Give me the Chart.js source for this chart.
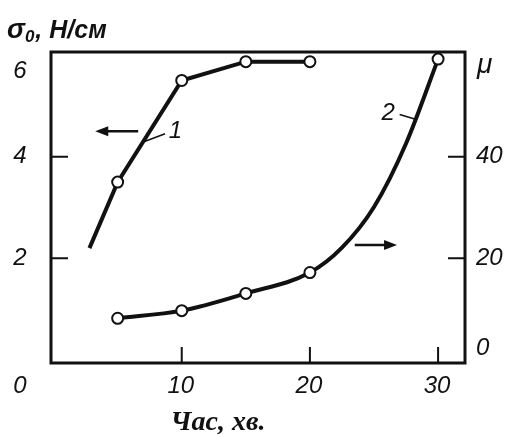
<!DOCTYPE html>
<html>
<head>
<meta charset="utf-8">
<script src="https://cdn.jsdelivr.net/npm/chart.js@4"></script>
<style>
  html, body { margin: 0; padding: 0; background: #fff; }
  #wrap { width: 511px; height: 437px; }
</style>
</head>
<body>
<div id="wrap"><canvas id="tensionChart"></canvas></div>
<script>
// крива 1: σ0 (Н/см), ліва вісь
const times1 = [2.8, 5, 10, 15, 20];
const sigma = [2.2, 3.5, 5.5, 5.87, 5.87];
// крива 2: μ, права вісь
const times2 = [5, 10, 15, 20, 22.5, 25, 27.5, 30];
const mu = [8.2, 9.7, 13.1, 17.2, 22.1, 30.1, 42.6, 59.2];
// моменти вимірювань (точки з кружечками)
const measured = [5, 10, 15, 20, 30];

const xTicks = [10, 20, 30];
const leftTicks = [2, 4, 6];
const rightTicks = [0, 20, 40];

const ink = '#111';
const numFont = 'italic 24px "Liberation Sans", sans-serif';

function markerRadius(c) {
    return measured.includes(c.raw.x) ? 5.5 : 0;
}

// рамка, засічки, підписи, стрілки
const decor = {
    id: 'decor',
    afterDraw(chart) {
        const ctx = chart.ctx;
        const a = chart.chartArea;
        const sx = chart.scales.x, sl = chart.scales.y, sr = chart.scales.y2;
        ctx.save();
        ctx.strokeStyle = ink;
        ctx.fillStyle = ink;

        ctx.lineWidth = 3;
        ctx.strokeRect(a.left, a.top, a.right - a.left, a.bottom - a.top);

        ctx.lineWidth = 2;
        ctx.beginPath();
        xTicks.forEach(v => {
            const px = sx.getPixelForValue(v);
            ctx.moveTo(px, a.bottom); ctx.lineTo(px, a.bottom - 16);
        });
        leftTicks.filter(v => v < 6).forEach(v => {
            const py = sl.getPixelForValue(v);
            ctx.moveTo(a.left, py); ctx.lineTo(a.left + 17, py);
        });
        rightTicks.filter(v => v > 0).forEach(v => {
            const py = sr.getPixelForValue(v);
            ctx.moveTo(a.right, py); ctx.lineTo(a.right - 17, py);
        });
        ctx.stroke();

        ctx.font = numFont;
        ctx.textBaseline = 'middle';
        ctx.textAlign = 'center';
        ctx.fillText('0', 20, a.bottom + 23);
        xTicks.forEach(v => ctx.fillText(String(v), sx.getPixelForValue(v) - 1, a.bottom + 23));
        leftTicks.forEach(v => {
            const py = Math.max(sl.getPixelForValue(v), a.top + 19);
            ctx.fillText(String(v), 20, py);
        });
        ctx.textAlign = 'left';
        rightTicks.forEach(v => {
            const py = Math.min(sr.getPixelForValue(v), a.bottom - 15);
            ctx.fillText(String(v), 476, py);
        });
        ctx.font = 'italic 28px "Liberation Sans", sans-serif';
        ctx.fillText('μ', 477, a.top + 13);

        // σ0, Н/см
        ctx.font = 'bold italic 27px "Liberation Sans", sans-serif';
        ctx.textBaseline = 'alphabetic';
        let tx = 7;
        ctx.fillText('σ', tx, 38);
        tx += ctx.measureText('σ').width;
        ctx.font = 'bold italic 17px "Liberation Sans", sans-serif';
        ctx.fillText('0', tx, 42);
        tx += ctx.measureText('0').width + 1;
        ctx.font = 'bold italic 25px "Liberation Sans", sans-serif';
        ctx.fillText(', Н/см', tx, 38);

        // Час, хв.
        ctx.font = 'bold italic 28px "Liberation Serif", serif';
        ctx.textAlign = 'center';
        ctx.textBaseline = 'middle';
        ctx.fillText('Час, хв.', 218, 423);

        // стрілки до осей
        function arrow(x0, y0, x1, y1) {
            const dir = Math.sign(x1 - x0);
            ctx.lineWidth = 2.5;
            ctx.beginPath();
            ctx.moveTo(x0, y0); ctx.lineTo(x1 - dir * 8, y1);
            ctx.stroke();
            ctx.beginPath();
            ctx.moveTo(x1, y1);
            ctx.lineTo(x1 - dir * 13, y1 - 5);
            ctx.lineTo(x1 - dir * 13, y1 + 5);
            ctx.closePath();
            ctx.fill();
        }
        arrow(sx.getPixelForValue(6.6), sl.getPixelForValue(4.5),
              sx.getPixelForValue(3.25), sl.getPixelForValue(4.5));
        arrow(sx.getPixelForValue(23.5), sr.getPixelForValue(22.6),
              sx.getPixelForValue(26.8), sr.getPixelForValue(22.6));

        // номери кривих з виносками
        ctx.lineWidth = 1.5;
        ctx.beginPath();
        ctx.moveTo(sx.getPixelForValue(7.1), sl.getPixelForValue(4.3));
        ctx.lineTo(sx.getPixelForValue(8.7), sl.getPixelForValue(4.45));
        ctx.moveTo(sx.getPixelForValue(27.0), sr.getPixelForValue(48.3));
        ctx.lineTo(sx.getPixelForValue(28.3), sr.getPixelForValue(47.3));
        ctx.stroke();
        ctx.font = numFont;
        ctx.fillText('1', sx.getPixelForValue(9.5), sl.getPixelForValue(4.5));
        ctx.fillText('2', sx.getPixelForValue(26.1), sr.getPixelForValue(48.6));
        ctx.restore();
    }
};

new Chart(document.getElementById('tensionChart'), {
    type: 'line',
    data: {
        datasets: [{
            label: '1',
            data: times1.map((t, i) => ({ x: t, y: sigma[i] })),
            yAxisID: 'y',
            borderColor: ink,
            borderWidth: 4,
            pointRadius: markerRadius,
            pointBackgroundColor: '#fff',
            pointBorderColor: ink,
            pointBorderWidth: 2,
            tension: 0,
            clip: false
        }, {
            label: '2',
            data: times2.map((t, i) => ({ x: t, y: mu[i] })),
            yAxisID: 'y2',
            borderColor: ink,
            borderWidth: 4,
            pointRadius: markerRadius,
            pointBackgroundColor: '#fff',
            pointBorderColor: ink,
            pointBorderWidth: 2,
            cubicInterpolationMode: 'monotone',
            clip: false
        }]
    },
    options: {
        responsive: true,
        maintainAspectRatio: false,
        animation: false,
        layout: { padding: { left: 51, right: 46, top: 52, bottom: 74 } },
        scales: {
            x: { type: 'linear', min: -0.2, max: 32.1, display: false },
            y: { min: -0.06, max: 6.06, display: false },
            y2: { min: -0.6, max: 60.6, display: false }
        },
        plugins: {
            legend: { display: false },
            tooltip: { enabled: false }
        }
    },
    plugins: [decor]
});
</script>
</body>
</html>
